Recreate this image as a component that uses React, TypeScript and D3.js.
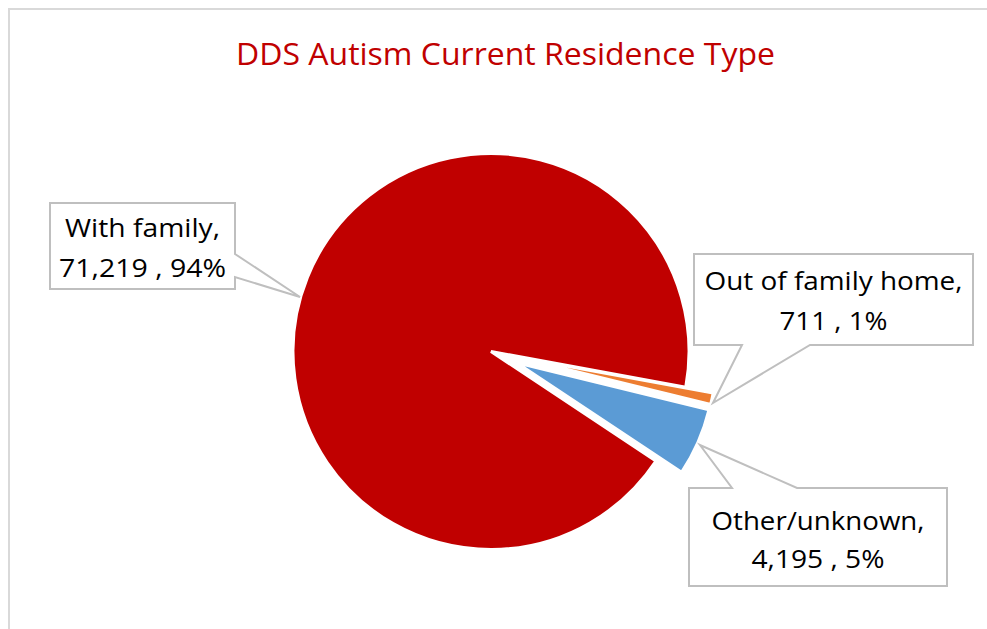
import React from "react";
import * as d3 from "d3";

const categories = ["With family", "Out of family home", "Other/unknown"];
const values = [71219, 711, 4195];
const valueLabels = ["71,219", "711", "4,195"];
const percentLabels = ["94%", "1%", "5%"];
const colors = ["#C00000", "#ED7D31", "#5B9BD5"];
const explodedSlices = [false, true, true];
const title = "DDS Autism Current Residence Type";

const W = 987;
const H = 629;
const cx = 491;
const cy = 351.5;
const R = 198;
const explode = 28;
const firstSliceAngle = (123.6 * Math.PI) / 180;

// callout layout: box + pointer
const callouts = [
  { box: [50, 203, 235, 289], side: "right", base: [254, 277], tip: [300, 297], lines: [237, 277], widths: [155, 167] },
  { box: [694, 254, 973, 345], side: "bottom", base: [742, 810], tip: [713, 403], lines: [290, 330], widths: [258, 108] },
  { box: [689, 488, 947, 586], side: "top", base: [732, 797], tip: [700, 445], lines: [530, 568], widths: [213, 133] },
];

function calloutPath(c: any) {
  const [x0, y0, x1, y1] = c.box;
  const [b0, b1] = c.base;
  const [tx, ty] = c.tip;
  const p = d3.path();
  if (c.side === "right") {
    p.moveTo(x0, y0); p.lineTo(x1, y0); p.lineTo(x1, b0); p.lineTo(tx, ty); p.lineTo(x1, b1);
    p.lineTo(x1, y1); p.lineTo(x0, y1); p.closePath();
  } else if (c.side === "bottom") {
    p.moveTo(x0, y0); p.lineTo(x1, y0); p.lineTo(x1, y1); p.lineTo(b1, y1); p.lineTo(tx, ty);
    p.lineTo(b0, y1); p.lineTo(x0, y1); p.closePath();
  } else {
    p.moveTo(x0, y0); p.lineTo(b0, y0); p.lineTo(tx, ty); p.lineTo(b1, y0); p.lineTo(x1, y0);
    p.lineTo(x1, y1); p.lineTo(x0, y1); p.closePath();
  }
  return p.toString();
}

export default function App() {
  const pie = d3
    .pie<number>()
    .sort(null)
    .value((d) => d)
    .startAngle(firstSliceAngle)
    .endAngle(firstSliceAngle + 2 * Math.PI);
  const arcs = pie(values);
  const arc = d3.arc<d3.PieArcDatum<number>>().innerRadius(0).outerRadius(R);
  const font = "'Open Sans', 'Liberation Sans', sans-serif";

  return (
    <svg
      width={W}
      height={H}
      style={{ position: "absolute", left: 0, top: 0, background: "#fff" }}
    >
      <rect x={0} y={0} width={W} height={H} fill="#ffffff" />
      <rect x={9} y={9} width={1100} height={800} fill="#ffffff" stroke="#D9D9D9" strokeWidth={2} />
      <text
        x={505.5}
        y={65}
        textAnchor="middle"
        fontFamily={font}
        fontSize={31}
        fill="#C00000"
        textLength={539}
        lengthAdjust="spacingAndGlyphs"
      >
        {title}
      </text>
      <g transform={`translate(${cx},${cy})`}>
        {arcs.map((a, i) => {
          const mid = (a.startAngle + a.endAngle) / 2;
          const d = explodedSlices[i] ? explode : 0;
          const dx = d * Math.sin(mid);
          const dy = -d * Math.cos(mid);
          return (
            <path
              key={categories[i]}
              d={arc(a) || ""}
              transform={`translate(${dx},${dy})`}
              fill={colors[i]}
              stroke="#ffffff"
              strokeWidth={3}
              strokeLinejoin="miter"
            />
          );
        })}
      </g>
      {callouts.map((c, i) => {
        const midX = (c.box[0] + c.box[2]) / 2;
        return (
          <g key={categories[i]}>
            <path d={calloutPath(c)} fill="#ffffff" stroke="#BFBFBF" strokeWidth={2} />
            <text
              x={midX}
              y={c.lines[0]}
              textAnchor="middle"
              fontFamily={font}
              fontSize={26}
              fill="#000"
              textLength={c.widths[0]}
              lengthAdjust="spacingAndGlyphs"
            >
              {categories[i] + ","}
            </text>
            <text
              x={midX}
              y={c.lines[1]}
              textAnchor="middle"
              fontFamily={font}
              fontSize={26}
              fill="#000"
              textLength={c.widths[1]}
              lengthAdjust="spacingAndGlyphs"
            >
              {`${valueLabels[i]} , ${percentLabels[i]}`}
            </text>
          </g>
        );
      })}
    </svg>
  );
}
